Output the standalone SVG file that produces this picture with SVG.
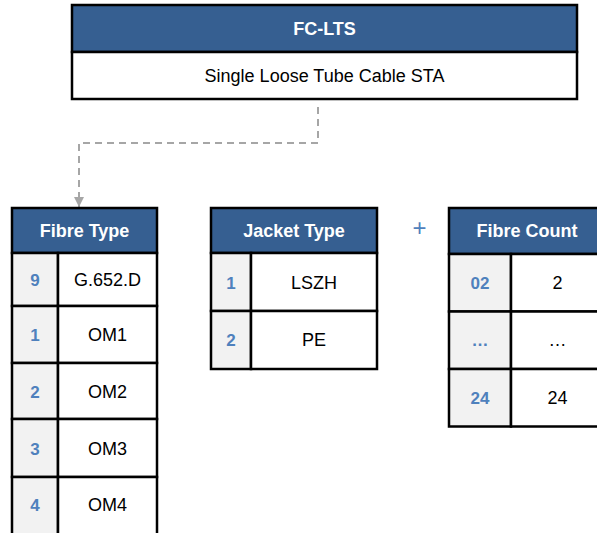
<svg xmlns="http://www.w3.org/2000/svg" width="597" height="533" viewBox="0 0 597 533">
<defs>
<style>
.hd{fill:#365F91;stroke:#000;stroke-width:2.5}
.cell{fill:#fff;stroke:#000;stroke-width:2.5}
.key{fill:#F2F2F2;stroke:#000;stroke-width:2.5}
.ht{font-family:"Liberation Sans",Arial,sans-serif;font-weight:bold;font-size:18px;fill:#fff;text-anchor:middle;dominant-baseline:central}
.bt{font-family:"Liberation Sans",Arial,sans-serif;font-size:18px;fill:#000;text-anchor:middle;dominant-baseline:central}
.kt{font-family:"Liberation Sans",Arial,sans-serif;font-weight:bold;font-size:17px;fill:#4F81BD;text-anchor:middle;dominant-baseline:central}
.conn{fill:none;stroke:#A6A6A6;stroke-width:2;stroke-dasharray:7,5}
</style>
<marker id="arr" viewBox="0 0 10 10" refX="10" refY="5" markerWidth="5" markerHeight="5" orient="auto" markerUnits="strokeWidth">
<path d="M0,0 L10,5 L0,10 z" fill="#A6A6A6"/>
</marker>
</defs>
<rect width="597" height="533" fill="#fff"/>
<g id="connectors">
<path class="conn" d="M318,107 V143 H79 V207" marker-end="url(#arr)"/>
</g>
<g id="fc-lts">
<rect class="hd" x="72" y="5" width="505" height="47"/>
<rect class="cell" x="72" y="52" width="505" height="47"/>
<text class="ht" x="324.5" y="29">FC-LTS</text>
<text class="bt" x="324.5" y="75.5">Single Loose Tube Cable STA</text>
</g>
<g id="fibre-type">
<rect class="hd" x="12" y="208" width="145" height="45"/>
<text class="ht" x="84.5" y="231">Fibre Type</text>
<rect class="key" x="12" y="253" width="46" height="53"/>
<rect class="cell" x="58" y="253" width="99" height="53"/>
<text class="kt" x="35" y="280">9</text>
<text class="bt" x="107.5" y="280">G.652.D</text>
<rect class="key" x="12" y="306" width="46" height="57"/>
<rect class="cell" x="58" y="306" width="99" height="57"/>
<text class="kt" x="35" y="335">1</text>
<text class="bt" x="107.5" y="335">OM1</text>
<rect class="key" x="12" y="363" width="46" height="56"/>
<rect class="cell" x="58" y="363" width="99" height="56"/>
<text class="kt" x="35" y="392">2</text>
<text class="bt" x="107.5" y="392">OM2</text>
<rect class="key" x="12" y="419" width="46" height="58"/>
<rect class="cell" x="58" y="419" width="99" height="58"/>
<text class="kt" x="35" y="449">3</text>
<text class="bt" x="107.5" y="449">OM3</text>
<rect class="key" x="12" y="477" width="46" height="66"/>
<rect class="cell" x="58" y="477" width="99" height="66"/>
<text class="kt" x="35" y="505">4</text>
<text class="bt" x="107.5" y="505">OM4</text>
</g>
<g id="jacket-type">
<rect class="hd" x="211" y="208" width="166" height="45"/>
<text class="ht" x="294" y="231">Jacket Type</text>
<rect class="key" x="211" y="253" width="40" height="58"/>
<rect class="cell" x="251" y="253" width="126" height="58"/>
<text class="kt" x="231" y="283">1</text>
<text class="bt" x="314" y="283">LSZH</text>
<rect class="key" x="211" y="311" width="40" height="58"/>
<rect class="cell" x="251" y="311" width="126" height="58"/>
<text class="kt" x="231" y="340">2</text>
<text class="bt" x="314" y="340">PE</text>
</g>
<g id="plus">
<text x="419.5" y="227" style="font-family:'Liberation Sans',Arial,sans-serif;font-size:24px;fill:#4F81BD;text-anchor:middle;dominant-baseline:central">+</text>
</g>
<g id="fibre-count">
<rect class="hd" x="449" y="208" width="160" height="46"/>
<text class="ht" x="527" y="231">Fibre Count</text>
<rect class="key" x="449" y="254" width="62" height="57.5"/>
<rect class="cell" x="511" y="254" width="98" height="57.5"/>
<text class="kt" x="480" y="283">02</text>
<text class="bt" x="557.5" y="283">2</text>
<rect class="key" x="449" y="311.5" width="62" height="57.5"/>
<rect class="cell" x="511" y="311.5" width="98" height="57.5"/>
<text class="kt" x="480" y="340">…</text>
<text class="bt" x="557.5" y="340">…</text>
<rect class="key" x="449" y="369" width="62" height="57.5"/>
<rect class="cell" x="511" y="369" width="98" height="57.5"/>
<text class="kt" x="480" y="398">24</text>
<text class="bt" x="557.5" y="398">24</text>
</g>
</svg>
